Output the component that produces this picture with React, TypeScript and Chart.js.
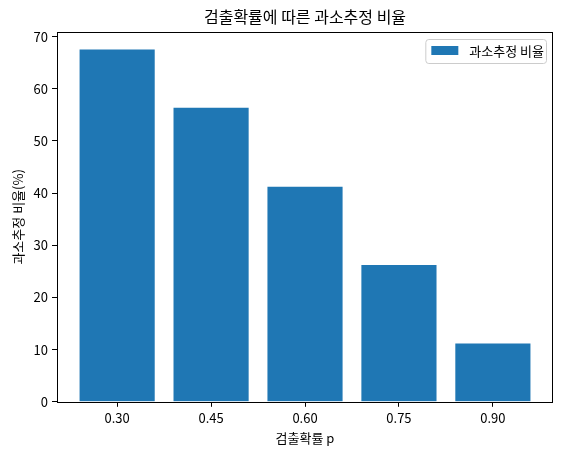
import { useEffect, useRef } from 'react'
import { Chart, registerables } from 'chart.js'

Chart.register(...registerables)

const xLabels = ['0.30', '0.45', '0.60', '0.75', '0.90']
const underRates = [67.5, 56.35, 41.2, 26.2, 11.15]
const yTicks = [0, 10, 20, 30, 40, 50, 60, 70]
const seriesLabel = '과소추정 비율'
const chartTitle = '검출확률에 따른 과소추정 비율'
const xTitle = '검출확률 p'
const yTitle = '과소추정 비율(%)'

const FONT = '"Noto Sans CJK KR", "Noto Sans", sans-serif'
const BLUE = '#1f77b4'

// frame, title and the in-axes legend, matplotlib style
const decor = {
  id: 'decor',
  afterDraw(chart: any) {
    const { ctx, chartArea: a } = chart
    ctx.save()
    ctx.strokeStyle = '#000'
    ctx.lineWidth = 1
    ctx.strokeRect(Math.round(a.left) + 0.5, Math.round(a.top) + 0.5, Math.round(a.right - a.left) - 1, Math.round(a.bottom - a.top))

    ctx.fillStyle = '#000'
    ctx.font = `16px ${FONT}`
    ctx.textAlign = 'center'
    ctx.textBaseline = 'alphabetic'
    ctx.fillText(chartTitle, (a.left + a.right) / 2, a.top - 9)

    const ds = chart.data.datasets[0]
    ctx.font = `13px ${FONT}`
    const tw = ctx.measureText(ds.label).width
    const bw = tw + 46
    const bx = a.right - 7 - bw
    const by = a.top + 7
    const bh = 24
    ctx.beginPath()
    ctx.roundRect(bx + 0.5, by + 0.5, bw, bh, 3)
    ctx.fillStyle = 'rgba(255,255,255,0.8)'
    ctx.fill()
    ctx.strokeStyle = '#cccccc'
    ctx.stroke()
    ctx.fillStyle = ds.backgroundColor
    ctx.fillRect(bx + 6, by + 7, 27, 9)
    ctx.fillStyle = '#000'
    ctx.textAlign = 'left'
    ctx.textBaseline = 'middle'
    ctx.fillText(ds.label, bx + 44, by + bh / 2 + 0.5)
    ctx.restore()
  },
}

export default function App() {
  const canvasRef = useRef<HTMLCanvasElement>(null)

  useEffect(() => {
    document.body.style.margin = '0'
    if (!canvasRef.current) return
    const chart = new Chart(canvasRef.current, {
      type: 'bar',
      data: {
        datasets: [{
          label: seriesLabel,
          data: underRates.map((v, i) => ({ x: i, y: v })),
          backgroundColor: BLUE,
          borderColor: BLUE,
          borderWidth: 0,
          borderSkipped: false,
          inflateAmount: 0,
          barPercentage: 0.8,
          categoryPercentage: 1,
        }],
      },
      options: {
        responsive: false,
        animation: false,
        layout: { padding: { top: 32, right: 8, bottom: 9, left: 10 } },
        plugins: { legend: { display: false }, tooltip: { enabled: false }, title: { display: false } },
        scales: {
          x: {
            type: 'linear',
            offset: false,
            min: -0.64,
            max: 4.64,
            afterBuildTicks: (s: any) => { s.ticks = xLabels.map((_, i) => ({ value: i })) },
            ticks: { callback: (v: any) => xLabels[v], color: '#000', font: { family: FONT, size: 13 }, padding: 3, maxRotation: 0 },
            grid: { offset: false, drawOnChartArea: false, drawTicks: true, tickLength: 5, tickColor: '#000' },
            border: { display: false },
            title: { display: true, text: xTitle, color: '#000', font: { family: FONT, size: 13 }, padding: { top: 2, bottom: 0 } },
          },
          y: {
            min: 0,
            max: 70.875,
            afterBuildTicks: (s: any) => { s.ticks = yTicks.map((v) => ({ value: v })) },
            ticks: { color: '#000', font: { family: FONT, size: 13 }, padding: 4 },
            grid: { drawOnChartArea: false, drawTicks: true, tickLength: 5, tickColor: '#000' },
            border: { display: false },
            title: { display: true, text: yTitle, color: '#000', font: { family: FONT, size: 13 }, padding: { top: 0, bottom: 4 } },
          },
        },
      },
      plugins: [decor],
    })
    return () => chart.destroy()
  }, [])

  return <canvas ref={canvasRef} width={561} height={455} style={{ display: 'block' }} />
}
